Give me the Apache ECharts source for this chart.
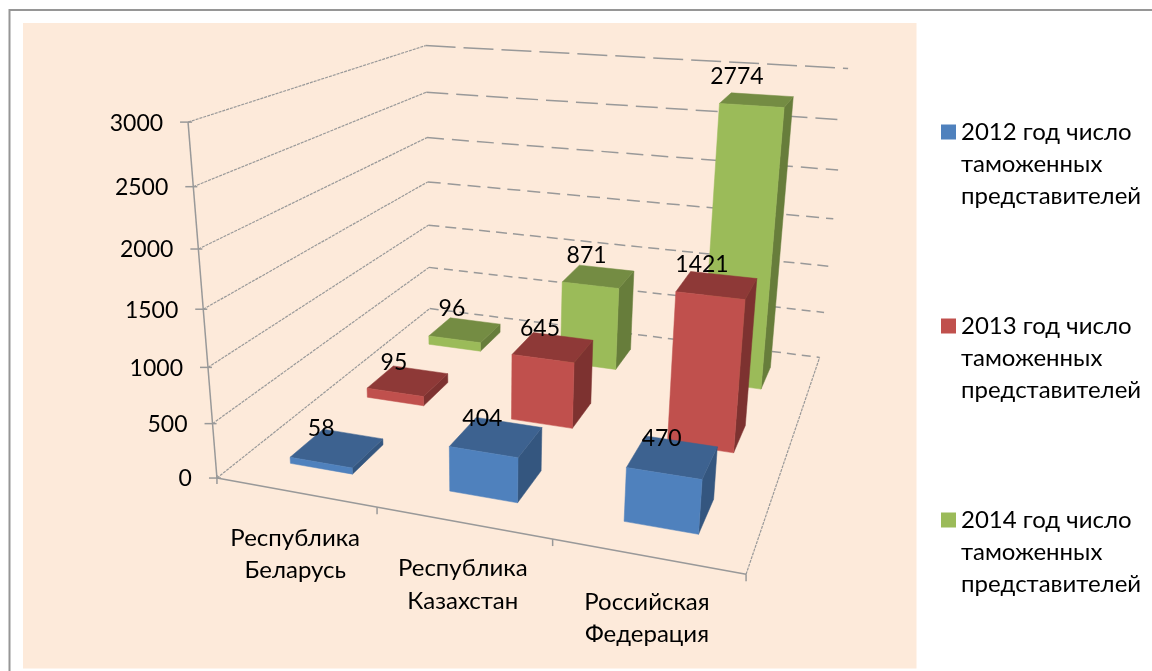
<!DOCTYPE html>
<html>
<head>
<meta charset="utf-8">
<style>
  html, body { margin: 0; padding: 0; background: #fff; }
  #chart { width: 1152px; height: 671px; }
</style>
<script src="https://cdn.jsdelivr.net/npm/echarts@6/dist/echarts.min.js"></script>
</head>
<body>
<div id="chart"></div>
<script>
const categories = ['Республика\nБеларусь', 'Республика\nКазахстан', 'Российская\nФедерация'];
const seriesNames = [
  '2012 год число\nтаможенных\nпредставителей',
  '2013 год число\nтаможенных\nпредставителей',
  '2014 год число\nтаможенных\nпредставителей'
];
const values2012 = [58, 404, 470];
const values2013 = [95, 645, 1421];
const values2014 = [96, 871, 2774];
const yTicks = [0, 500, 1000, 1500, 2000, 2500, 3000];

const colors = ['#4F81BD', '#C0504D', '#9BBB59'];
const topColors = ['#3D6290', '#8E3937', '#748C43'];
const sideColors = ['#34567F', '#7D3230', '#677D3B'];
const FONT = 'Lato, "Open Sans", sans-serif';
const LINE = '#999999';
const BACK_DASH = [[9, 6], [9, 6], [11, 6], [13, 7], [17, 8], [22, 8], [30, 8]];
const BAR_FROM = 0.3, BAR_TO = 0.7;
// small per-label shifts, same order as labelData
const LABEL_NUDGE = [[-3, 1], [-1, 2], [2, 2], [-1, 2], [0, 1], [-2, 0], [0, -1], [1, -1], [-7, -3]];

// where the corners of the 3d box land on the page: [u, v, w] -> [x, y]
const boxCorners = [
  [[0, 0, 0], [218, 477]],
  [[1, 0, 0], [747, 574]],
  [[0, 1, 0], [186, 123.5]],
  [[0, 0, 1], [428, 309]],
  [[1, 0, 1], [820, 358]],
  [[0, 1, 1], [428, 45]],
  [[1, 1, 1], [847, 68]]
];

function solveProjection(corners) {
  const n = 11;
  const A = [];
  for (let i = 0; i < n; i++) A.push(new Array(n + 1).fill(0));
  function addRow(row, rhs) {
    for (let i = 0; i < n; i++) {
      for (let j = 0; j < n; j++) A[i][j] += row[i] * row[j];
      A[i][n] += row[i] * rhs;
    }
  }
  corners.forEach(function (c) {
    const X = c[0][0], Y = c[0][1], Z = c[0][2], x = c[1][0], y = c[1][1];
    addRow([X, Y, Z, 1, 0, 0, 0, 0, -x * X, -x * Y, -x * Z], x);
    addRow([0, 0, 0, 0, X, Y, Z, 1, -y * X, -y * Y, -y * Z], y);
  });
  for (let i = 0; i < n; i++) {
    let p = i;
    for (let r = i + 1; r < n; r++) if (Math.abs(A[r][i]) > Math.abs(A[p][i])) p = r;
    const t = A[i]; A[i] = A[p]; A[p] = t;
    for (let r = 0; r < n; r++) {
      if (r === i) continue;
      const f = A[r][i] / A[i][i];
      for (let k = i; k <= n; k++) A[r][k] -= f * A[i][k];
    }
  }
  return A.map(function (row, i) { return row[n] / row[i]; });
}

const m = solveProjection(boxCorners);

function project(u, v, w) {
  const d = m[8] * u + m[9] * v + m[10] * w + 1;
  return [
    (m[0] * u + m[1] * v + m[2] * w + m[3]) / d,
    (m[4] * u + m[5] * v + m[6] * w + m[7]) / d
  ];
}

// turn a point of the flat (hidden) grid into box coordinates
function toBox(params, api, cat, val) {
  const cs = params.coordSys;
  const p = api.coord([cat, val]);
  return { u: (p[0] - cs.x) / cs.width, v: (cs.y + cs.height - p[1]) / cs.height, band: api.size([1, 0])[0] / cs.width };
}

function line(a, b, style) {
  return { type: 'line', shape: { x1: a[0], y1: a[1], x2: b[0], y2: b[1] }, style: Object.assign({ fill: null }, style), silent: true };
}

function poly(points, fill) {
  return { type: 'polygon', shape: { points: points }, style: { fill: fill, stroke: fill, lineWidth: 0.5 }, silent: true };
}

function text(x, y, str, align, extra) {
  return {
    type: 'text',
    silent: true,
    style: Object.assign({
      x: x, y: y, text: str, fill: '#000', font: '23px ' + FONT,
      align: align, verticalAlign: 'middle'
    }, extra || {})
  };
}

function renderBar(depth) {
  return function (params, api) {
    const b = toBox(params, api, api.value(0), api.value(1));
    const half = b.band * (BAR_TO - BAR_FROM) / 2;
    const u0 = b.u - half, u1 = b.u + half;
    const w0 = (depth + BAR_FROM) / 3, w1 = (depth + BAR_TO) / 3;
    const v = b.v;
    return {
      type: 'group',
      children: [
        poly([project(u1, 0, w0), project(u1, 0, w1), project(u1, v, w1), project(u1, v, w0)], sideColors[depth]),
        poly([project(u0, v, w0), project(u1, v, w0), project(u1, v, w1), project(u0, v, w1)], topColors[depth]),
        poly([project(u0, 0, w0), project(u1, 0, w0), project(u1, v, w0), project(u0, v, w0)], colors[depth])
      ]
    };
  };
}

function renderWalls(params, api) {
  const i = params.dataIndex;
  const v = toBox(params, api, 0, api.value(1)).v;
  const front = project(0, v, 0), corner = project(0, v, 1), right = project(1, v, 1);
  const kids = [
    line(front, corner, { stroke: LINE, lineWidth: 1.2, lineDash: [3, 1] }),
    line(corner, right, { stroke: LINE, lineWidth: 1.5, lineDash: BACK_DASH[i] }),
    line([front[0] - 8, front[1]], [front[0] + 4, front[1]], { stroke: LINE, lineWidth: 1.5 }),
    text(front[0] - 25, front[1] + 1, String(api.value(1)), 'right')
  ];
  if (i === 0) {
    kids.push(line(project(0, 0, 0), project(0, 1, 0), { stroke: LINE, lineWidth: 1.5 }));
    kids.push(line(project(0, 0, 0), project(1, 0, 0), { stroke: LINE, lineWidth: 1.5 }));
    kids.push(line(project(1, 0, 0), project(1, 0, 1), { stroke: LINE, lineWidth: 1.2, lineDash: [3, 1] }));
    const o = project(0, 0, 0);
    kids.push(line([o[0], o[1] - 3], [o[0], o[1] + 6], { stroke: LINE, lineWidth: 1.5 }));
  }
  return { type: 'group', children: kids };
}

function renderCategory(params, api) {
  const b = toBox(params, api, api.value(0), 0);
  const tickAt = project(b.u + b.band / 2, 0, 0);
  const mid = project(b.u, 0, 0);
  return {
    type: 'group',
    children: [
      line(tickAt, [tickAt[0], tickAt[1] + 7], { stroke: LINE, lineWidth: 1.5 }),
      text(mid[0], mid[1] + 62, categories[params.dataIndex], 'center', { lineHeight: 32.5, font: '24px ' + FONT })
    ]
  };
}

function renderValueLabel(params, api) {
  const b = toBox(params, api, api.value(0), api.value(1));
  const w = (api.value(2) + 0.5) / 3;
  const p = project(b.u, b.v, w);
  const nudge = LABEL_NUDGE[params.dataIndex];
  return text(p[0] - 13 + nudge[0], p[1] - 20 + nudge[1], String(api.value(1)), 'center');
}

function barData(values) {
  return values.map(function (v, i) { return [i, v]; });
}

const labelData = [];
[values2012, values2013, values2014].forEach(function (vals, s) {
  vals.forEach(function (v, i) { labelData.push([i, v, s]); });
});

function barSeries(index, values) {
  return {
    name: seriesNames[index],
    type: 'custom',
    renderItem: renderBar(index),
    data: barData(values),
    itemStyle: { color: colors[index] },
    clip: false,
    z: 8 - index * 2
  };
}

const chart = echarts.init(document.getElementById('chart'), null, { renderer: 'canvas' });
chart.setOption({
  animation: false,
  grid: {
    left: 23, top: 23, width: 893.5, height: 645.5,
    show: true, backgroundColor: '#FDEADA', borderWidth: 0
  },
  xAxis: { type: 'category', data: categories, show: false },
  yAxis: { type: 'value', min: 0, max: 3000, interval: 500, show: false },
  legend: {
    data: seriesNames,
    orient: 'vertical',
    left: 941,
    top: 52,
    padding: 0,
    itemWidth: 15,
    itemHeight: 15,
    itemGap: 34,
    icon: 'rect',
    selectedMode: false,
    // two blank lines on top put the first text line level with the square
    formatter: function (name) { return '\n\n' + name; },
    textStyle: { fontFamily: FONT, fontSize: 24, lineHeight: 32, color: '#000' }
  },
  graphic: [{
    type: 'polyline',
    silent: true,
    shape: { points: [[9.5, 680], [9.5, 10], [1160, 10]] },
    style: { fill: null, stroke: '#969696', lineWidth: 2 }
  }],
  series: [
    {
      type: 'custom',
      renderItem: renderWalls,
      data: yTicks.map(function (t) { return [0, t]; }),
      clip: false,
      silent: true,
      z: 1
    },
    {
      type: 'custom',
      renderItem: renderCategory,
      data: categories.map(function (c, i) { return [i, 0]; }),
      clip: false,
      silent: true,
      z: 1
    },
    barSeries(0, values2012),
    barSeries(1, values2013),
    barSeries(2, values2014),
    {
      type: 'custom',
      renderItem: renderValueLabel,
      data: labelData,
      clip: false,
      silent: true,
      z: 12
    }
  ]
});
</script>
</body>
</html>
